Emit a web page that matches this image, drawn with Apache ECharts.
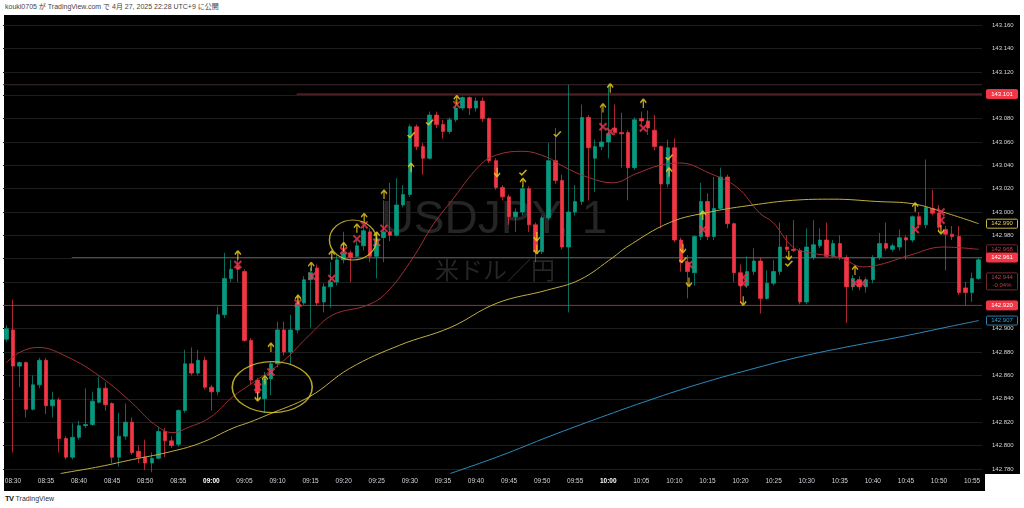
<!DOCTYPE html>
<html><head><meta charset="utf-8">
<script src="https://cdn.jsdelivr.net/npm/echarts@6/dist/echarts.min.js"></script>
<style>
html,body{margin:0;padding:0;background:#fff;width:1024px;height:508px;overflow:hidden;font-family:"Liberation Sans",Arial,"Noto Sans CJK JP",sans-serif}
#hdr{position:absolute;left:5px;top:3px;font-size:7px;line-height:8px;color:#444;font-family:"Liberation Sans","Noto Sans CJK JP",sans-serif;white-space:nowrap}
#pane{position:absolute;left:4px;top:15px;width:981px;height:476px;background:#000}
#scale{position:absolute;left:985px;top:15px;width:35px;height:459px;background:#000}
#foot{position:absolute;left:5px;top:494px;font-size:7px;line-height:9px;color:#333;white-space:nowrap}
#foot b{font-size:7.5px;color:#131722;margin-right:2px;letter-spacing:-0.5px}
#chart{position:absolute;left:0;top:0;width:1024px;height:508px}
</style></head>
<body>
<div id="hdr">kouki0705 が TradingView.com で 4月 27, 2025 22:28 UTC+9 に公開</div>
<div id="pane"></div><div id="scale"></div>
<div id="foot"><b>TV</b>TradingView</div>
<div id="chart"></div>
<script>
// ---- data (1-minute candles, 08:29 .. 10:56) ----
const times = [];
for (let m = 8*60+29; m <= 10*60+56; m++) times.push(String(Math.floor(m/60)).padStart(2,'0') + ':' + String(m%60).padStart(2,'0'));

const opens = [142.891,142.899,142.868,142.871,142.831,142.852,142.873,142.834,142.839,142.806,
142.790,142.807,142.817,142.818,142.837,142.849,142.836,142.790,142.808,142.820,
142.795,142.790,142.785,142.789,142.812,142.804,142.801,142.830,142.870,142.862,
142.873,142.850,142.846,142.912,142.943,142.953,142.949,142.890,142.856,142.840,
142.857,142.870,142.899,142.880,142.899,142.922,142.942,142.952,142.923,142.936,
142.940,142.959,142.965,142.962,142.971,142.983,142.962,142.978,142.983,142.980,
143.006,143.015,143.073,143.056,143.046,143.083,143.075,143.069,143.079,143.089,
143.098,143.089,143.095,143.080,143.044,143.021,143.013,142.996,143.000,143.020,
142.989,142.966,142.995,143.044,143.027,142.970,143.000,143.009,143.081,143.046,
143.056,143.060,143.072,143.068,143.068,143.038,143.080,143.078,143.070,143.056,
143.024,143.055,142.976,142.957,142.948,142.979,143.009,142.979,143.003,143.030,
142.990,142.948,142.937,142.949,142.958,142.926,142.939,142.949,142.970,142.968,
142.967,142.923,142.961,142.971,142.976,142.962,142.973,142.961,142.936,142.942,
142.936,142.942,142.961,142.973,142.968,142.970,142.978,142.976,142.996,142.989,
143.003,142.999,142.985,142.981,142.979,142.935,142.931,142.943];
const closes = [142.900,142.868,142.871,142.831,142.852,142.873,142.834,142.839,142.806,142.790,
142.807,142.817,142.818,142.838,142.849,142.835,142.790,142.808,142.820,142.794,
142.790,142.785,142.789,142.812,142.804,142.800,142.830,142.870,142.862,142.873,
142.850,142.846,142.912,142.943,142.951,142.951,142.890,142.856,142.845,142.857,
142.870,142.899,142.880,142.899,142.922,142.942,142.948,142.922,142.936,142.940,
142.959,142.965,142.961,142.971,142.984,142.962,142.977,142.983,142.980,143.006,
143.015,143.073,143.056,143.046,143.083,143.075,143.069,143.079,143.089,143.098,
143.089,143.095,143.080,143.044,143.021,143.013,142.996,143.000,143.020,142.989,
142.966,142.995,143.044,143.027,142.970,143.000,143.009,143.081,143.055,143.056,
143.060,143.067,143.068,143.067,143.038,143.079,143.078,143.072,143.056,143.024,
143.055,142.976,142.957,142.949,142.979,143.009,142.979,143.003,143.030,142.990,
142.948,142.937,142.949,142.958,142.926,142.939,142.949,142.970,142.968,142.967,
142.923,142.970,142.972,142.976,142.962,142.973,142.961,142.936,142.943,142.936,
142.942,142.961,142.973,142.969,142.971,142.978,142.976,142.996,142.989,143.004,
142.999,142.987,142.981,142.979,142.931,142.931,142.943,142.959];
const highs = [142.903,142.925,142.872,142.872,142.860,142.875,142.875,142.846,142.841,142.808,
142.819,142.821,142.849,142.846,142.859,142.854,142.837,142.828,142.836,142.824,
142.800,142.805,142.794,142.816,142.815,142.808,142.831,142.882,142.884,142.882,
142.876,142.852,142.919,142.965,142.959,142.960,142.951,142.892,142.858,142.863,
142.872,142.906,142.906,142.912,142.929,142.945,142.952,142.955,142.939,142.957,
142.963,142.983,142.967,142.976,142.989,142.986,142.983,143.010,143.025,143.029,
143.023,143.075,143.075,143.059,143.086,143.086,143.079,143.081,143.096,143.099,
143.099,143.098,143.098,143.081,143.046,143.023,143.015,143.003,143.023,143.022,
142.991,142.997,143.059,143.072,143.032,143.109,143.023,143.092,143.083,143.062,
143.090,143.109,143.092,143.085,143.070,143.081,143.086,143.087,143.083,143.057,
143.062,143.063,142.978,142.963,142.980,143.025,143.016,143.030,143.038,143.032,
142.991,142.955,142.962,142.969,142.961,142.950,142.959,142.991,142.980,142.993,
142.969,142.986,142.993,142.986,142.991,142.976,142.980,142.963,142.946,142.945,
142.944,142.963,142.982,142.991,142.973,142.985,142.980,142.997,143.000,143.045,
143.019,143.006,142.988,142.988,142.988,142.940,142.948,142.961];
const lows = [142.889,142.794,142.850,142.824,142.830,142.849,142.827,142.824,142.794,142.788,
142.788,142.805,142.815,142.817,142.836,142.830,142.785,142.782,142.805,142.792,
142.785,142.779,142.777,142.788,142.790,142.798,142.799,142.828,142.860,142.860,
142.848,142.830,142.843,142.909,142.940,142.940,142.889,142.852,142.839,142.828,
142.843,142.867,142.877,142.869,142.896,142.920,142.901,142.920,142.914,142.918,
142.937,142.956,142.940,142.961,142.967,142.957,142.943,142.957,142.975,142.979,
143.004,143.013,143.053,143.032,143.045,143.072,143.063,143.067,143.077,143.087,
143.083,143.086,143.077,143.042,143.019,143.010,142.989,142.983,142.997,142.983,
142.957,142.964,142.993,143.024,142.968,142.914,142.997,143.006,143.010,143.017,
143.053,143.046,143.066,143.038,143.010,143.036,143.075,143.066,143.053,142.986,
143.021,142.974,142.949,142.926,142.937,142.976,142.976,142.976,143.002,142.986,
142.940,142.922,142.935,142.946,142.913,142.925,142.937,142.946,142.966,142.966,
142.921,142.921,142.959,142.969,142.961,142.961,142.959,142.905,142.933,142.933,
142.931,142.939,142.959,142.967,142.966,142.967,142.959,142.974,142.986,142.986,
142.997,142.983,142.950,142.976,142.929,142.920,142.923,142.942];

// moving averages: [minute index, price]
const maRed = [[0,142.871],[2.1,142.880],[4.8,142.884],[9.2,142.876],[14.2,142.859],[19.1,142.836],[22.2,142.819],[25.2,142.811],[27.3,142.815],[30.8,142.824],[34.3,142.842],[36.8,142.852],[41.8,142.872],[45.9,142.895],[49.4,142.912],[54.5,142.920],[57.5,142.931],[61.5,142.961],[64.5,142.989],[67.1,143.008],[71.6,143.040],[74.2,143.049],[78.1,143.052],[81.7,143.047],[84.2,143.039],[87.8,143.030],[91.7,143.025],[95.3,143.033],[98.8,143.040],[101.8,143.042],[106.4,143.033],[110.5,143.021],[113.9,142.999],[115.9,142.991],[118.9,142.970],[121.5,142.965],[126.0,142.961],[129.5,142.953],[132.1,142.955],[136.6,142.963],[141.6,142.970],[147,142.968]];
const maYellow = [[8.2,142.776],[9.2,142.777],[14.2,142.782],[19.1,142.788],[24.3,142.794],[29.3,142.802],[34.3,142.815],[36.8,142.820],[39.4,142.826],[45.9,142.842],[51.9,142.866],[59.5,142.886],[67.1,142.901],[74.2,142.922],[81.7,142.933],[86.7,142.942],[91.7,142.961],[93.8,142.970],[100.3,142.991],[106.4,143.000],[112.9,143.006],[118.9,143.010],[125.0,143.011],[131.6,143.009],[137.1,143.007],[141.6,143.000],[147,142.990]];
const maBlue = [[67.1,142.776],[74.6,142.791],[82.2,142.808],[89.8,142.824],[97.3,142.839],[104.9,142.853],[112.4,142.865],[120.0,142.876],[127.6,142.885],[135.1,142.893],[142.7,142.902],[147,142.907]];

// horizontal levels [start minute index, price, colour]
const levels = [[-0.5,143.109,'#3b2a2c'],[43.9,143.101,'#8a333a'],[9.9,142.961,'#8a333a'],[-0.5,142.920,'#8a333a']];

// annotations [minute index, price]
const upArrows = [[35.0,142.963],[40.0,142.884],[39.1,142.856],[44.1,142.925],[46.1,142.953],[49.2,142.963],[51.0,142.970],[53.0,142.986],[54.1,142.995],[56.0,142.979],[57.1,143.015],[61.2,143.038],[68.1,143.096],[78.1,143.025],[90.2,143.089],[91.3,143.106],[96.3,143.093],[100.2,143.034],[105.3,142.997],[128.3,142.950],[137.4,143.004]];
const downArrows = [[38.0,142.842],[74.2,143.034],[80.2,142.979],[80.2,142.968],[102.3,142.969],[103.2,142.940],[111.4,142.924],[118.3,142.963],[141.3,142.985]];
const checks = [[61.2,143.066],[64.0,143.077],[78.1,143.034],[83.3,143.067],[100.2,143.047],[102.3,142.959],[118.3,142.956]];
const crosses = [[35.0,142.955],[38.0,142.850],[40.0,142.863],[44.1,142.922],[46.2,142.945],[49.2,142.943],[51.0,142.967],[53.0,142.977],[54.1,142.989],[56.0,142.974],[57.1,142.986],[68.1,143.092],[90.2,143.073],[91.3,143.069],[96.3,143.072],[103.2,142.955],[105.3,142.985],[111.4,142.944],[111.4,142.939],[128.3,142.939],[129.4,142.939],[137.4,142.985],[141.3,143.000],[141.3,142.993]];
const circles = [[40.2,142.850],[52.4,142.976]];

// right-scale price labels
const priceTags = [
  {v:143.101, t:'143.101', bg:'#f23645', bd:'#f23645', fg:'#ffffff'},
  {v:142.990, t:'142.990', bg:'#000000', bd:'#c9b548', fg:'#e8d25a'},
  {v:142.968, t:'142.968', bg:'#000000', bd:'#6e2a2f', fg:'#b8434c'},
  {v:142.961, t:'142.961', bg:'#f23645', bd:'#f23645', fg:'#ffffff'},
  {v:142.944, t:'142.944\n-0.04%', bg:'#000000', bd:'#6e2a2f', fg:'#b8434c'},
  {v:142.920, t:'142.920', bg:'#f23645', bd:'#f23645', fg:'#ffffff'},
  {v:142.907, t:'142.907', bg:'#000000', bd:'#2a7fa8', fg:'#3c9fd2'}
];

// ---- chart ----
const N = times.length;
const chart = echarts.init(document.getElementById('chart'), null, {renderer:'canvas'});
const candleData = times.map((_, i) => [opens[i], closes[i], lows[i], highs[i]]);
const Y = '#f5d31c', R = '#f2364d';
const up = 'path://M5,0 L0,5 M5,0 L10,5 M5,0 L5,12';
const dn = 'path://M5,12 L0,7 M5,12 L10,7 M5,12 L5,0';
const xx = 'path://M0,0 L10,10 M0,10 L10,0';
const ck = 'path://M0,5 L4,9 L12,0';
function strokeScatter(data, sym, size, col, w) {
  return {type:'scatter', xAxisIndex:1, yAxisIndex:0, data, symbol:sym, symbolSize:size, silent:true, z:6,
    itemStyle:{color:'rgba(0,0,0,0)', borderColor:col, borderWidth:w}};
}
const levelSeries = levels.map(l => ({type:'line', xAxisIndex:1, yAxisIndex:0, silent:true, symbol:'none', z:1,
  data:[[l[0], l[1]], [N-0.5, l[1]]], lineStyle:{color:l[2], width:1}}));

chart.setOption({
  animation:false,
  backgroundColor:'transparent',
  grid:[
    {left:3, right:42, top:1.85, bottom:15.8, containLabel:false, outerBoundsMode:'none'},
    {left:3, right:42, top:15, bottom:35, containLabel:false, outerBoundsMode:'none'}
  ],
  xAxis:[
    {type:'category', gridIndex:0, data:times, boundaryGap:true, show:false},
    {type:'value', gridIndex:0, min:-0.5, max:N-0.5, show:false},
    {type:'category', gridIndex:1, data:times, boundaryGap:true,
      axisLine:{show:false}, axisTick:{show:false}, splitLine:{show:false},
      axisLabel:{show:true, margin:5, color:'#d1d4dc', fontSize:6.5, fontFamily:'Liberation Sans',
        interval:(i, v) => Number(v.slice(3)) % 5 === 0,
        formatter:v => (v === '09:00' || v === '10:00') ? '{b|' + v + '}' : v,
        rich:{b:{fontWeight:'bold', color:'#ffffff', fontSize:6.5, fontFamily:'Liberation Sans'}}}}
  ],
  yAxis:[
    {type:'value', gridIndex:0, position:'right', min:142.76, max:143.18, interval:0.02, scale:true,
      axisLine:{show:false}, axisTick:{show:false},
      splitLine:{show:true, showMinLine:false, showMaxLine:false, lineStyle:{color:'#1e1e1e', width:1}},
      axisLabel:{show:true, margin:10, color:'#d1d4dc', fontSize:6, fontFamily:'Liberation Sans',
        showMinLabel:false, showMaxLabel:false, formatter:v => v.toFixed(3)}},
    {type:'value', gridIndex:1, show:false}
  ],
  series:[
    ...levelSeries,
    {type:'candlestick', xAxisIndex:0, yAxisIndex:0, data:candleData, barWidth:4, z:3,
      itemStyle:{color:'#089981', color0:'#f23645', borderColor:'#089981', borderColor0:'#f23645', borderWidth:0.7}},
    {type:'line', xAxisIndex:1, yAxisIndex:0, data:maRed, smooth:0.4, symbol:'none', silent:true, z:4,
      lineStyle:{color:'#9e2f37', width:1}},
    {type:'line', xAxisIndex:1, yAxisIndex:0, data:maYellow, smooth:0.4, symbol:'none', silent:true, z:4,
      lineStyle:{color:'#bfae45', width:1}},
    {type:'line', xAxisIndex:1, yAxisIndex:0, data:maBlue, smooth:0.4, symbol:'none', silent:true, z:4,
      lineStyle:{color:'#2d8cbf', width:1}},
    strokeScatter(crosses, xx, [7,7], R, 2),
    strokeScatter(upArrows, up, [6,9], Y, 1.5),
    strokeScatter(downArrows, dn, [6,9], Y, 1.5),
    strokeScatter(checks, ck, [7,5], Y, 1.5),
    {type:'scatter', xAxisIndex:1, yAxisIndex:0, data:[circles[0]], symbol:'circle', symbolSize:[80,51], silent:true, z:7,
      itemStyle:{color:'rgba(0,0,0,0)', borderColor:'#e3cf2c', borderWidth:1.3}},
    {type:'scatter', xAxisIndex:1, yAxisIndex:0, data:[circles[1]], symbol:'circle', symbolSize:[47,40], silent:true, z:7,
      itemStyle:{color:'rgba(0,0,0,0)', borderColor:'#e3cf2c', borderWidth:1.3}}
  ]
});

// watermark + price tags (positions derived from the y scale)
const g = [
  {type:'text', x:494, y:220, z:0, silent:true, style:{text:'USDJPY, 1', fill:'#252525', font:'46px "Liberation Sans", Arial, sans-serif', textAlign:'center', textVerticalAlign:'middle'}},
  {type:'text', x:495, y:270, z:0, silent:true, style:{text:'米ドル／円', fill:'#252525', font:'24px "Noto Sans CJK JP", sans-serif', textAlign:'center', textVerticalAlign:'middle'}}
];
priceTags.forEach(p => {
  const y = chart.convertToPixel({yAxisIndex:0}, p.v);
  const two = p.t.indexOf('\n') >= 0;
  const h = two ? 17 : 9;
  g.push({type:'rect', z:20, silent:true, shape:{x:986.5, y:y-4.5, width:31, height:h, r:1},
    style:{fill:p.bg, stroke:p.bd, lineWidth:1}});
  g.push({type:'text', z:21, silent:true, x:1002, y:y - 4.5 + h/2,
    style:{text:p.t, fill:p.fg, font:'6px "Liberation Sans", Arial, sans-serif', textAlign:'center', textVerticalAlign:'middle', lineHeight:7.5}});
});
chart.setOption({graphic:g});
</script>
</body></html>
